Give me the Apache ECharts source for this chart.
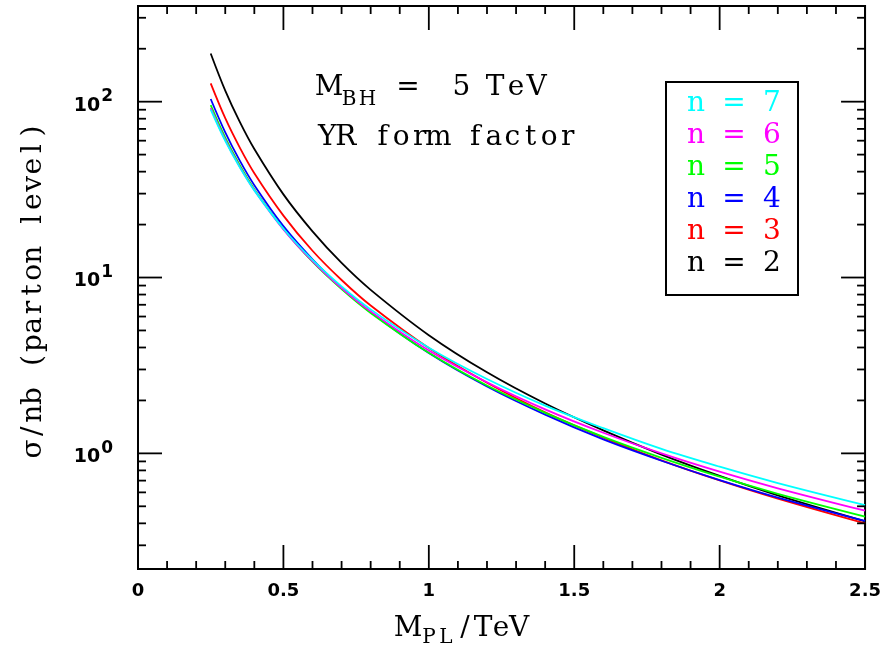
<!DOCTYPE html>
<html>
<head>
<meta charset="utf-8">
<script src="https://cdn.jsdelivr.net/npm/echarts@6/dist/echarts.min.js"></script>
<style>
html,body{margin:0;padding:0;background:#fff;}
#chart{width:884px;height:651px;}
</style>
</head>
<body>
<div id="chart"></div>
<script>
// ---- data ----
const mpl = [0.25, 0.3, 0.35, 0.4, 0.5, 0.6, 0.7, 0.8, 1.0, 1.2, 1.4, 1.6, 1.8, 2.0, 2.2, 2.5];
const sigN2 = [188, 115.6, 76.7, 53.8, 29.7, 18.3, 12.1, 8.51, 4.70, 2.89, 1.92, 1.35, 0.984, 0.744, 0.577, 0.411];
const sigN3 = [127, 80.5, 54.8, 39.2, 22.5, 14.2, 9.68, 6.93, 3.97, 2.52, 1.71, 1.23, 0.913, 0.702, 0.553, 0.400];
const sigN4 = [103.6, 66.9, 46.2, 33.5, 19.6, 12.7, 8.76, 6.35, 3.72, 2.40, 1.66, 1.20, 0.908, 0.705, 0.561, 0.413];
const sigN5 = [95.6, 62.4, 43.5, 31.8, 18.9, 12.3, 8.59, 6.29, 3.73, 2.43, 1.70, 1.24, 0.943, 0.737, 0.589, 0.437];
const sigN6 = [92, 60.6, 42.6, 31.4, 18.8, 12.4, 8.71, 6.42, 3.85, 2.54, 1.78, 1.31, 1.00, 0.787, 0.633, 0.472];
const sigN7 = [90, 59.8, 42.3, 31.3, 18.95, 12.6, 8.90, 6.59, 3.99, 2.65, 1.87, 1.39, 1.06, 0.840, 0.678, 0.508];
const nValues = [2, 3, 4, 5, 6, 7];
const seriesColors = ['#000000', '#ff0000', '#0000ff', '#00ff00', '#ff00ff', '#00ffff'];
const xMajorTicks = [0, 0.5, 1, 1.5, 2, 2.5];
const xMinorTicks = [0.1,0.2,0.3,0.4,0.6,0.7,0.8,0.9,1.1,1.2,1.3,1.4,1.6,1.7,1.8,1.9,2.1,2.2,2.3,2.4];
const yMajorTicks = [1, 10, 100];
const yMinorTicks = [0.3,0.4,0.5,0.6,0.7,0.8,0.9,2,3,4,5,6,7,8,9,20,30,40,50,60,70,80,90,200,300];
const xMin = 0, xMax = 2.5, yMin = 0.22, yMax = 350;

const sigmas = [sigN2, sigN3, sigN4, sigN5, sigN6, sigN7];

const chart = echarts.init(document.getElementById('chart'), null, {renderer: 'canvas'});

const lineSeries = nValues.map((n, k) => ({
  name: 'n = ' + n,
  type: 'line',
  data: mpl.map((x, i) => [x, sigmas[k][i]]),
  showSymbol: false,
  smooth: 0.35,
  lineStyle: {color: seriesColors[k], width: 1.8},
  itemStyle: {color: seriesColors[k]},
  z: 3
}));

// tick marks (drawn through the axes' scales)
const tickData = [];
xMajorTicks.forEach(v => tickData.push([v, yMin, 0]));
xMinorTicks.forEach(v => tickData.push([v, yMin, 1]));
yMajorTicks.forEach(v => tickData.push([xMin, v, 2]));
yMinorTicks.forEach(v => tickData.push([xMin, v, 3]));

const tickSeries = {
  type: 'custom',
  silent: true,
  z: 5,
  encode: {x: 0, y: 1},
  data: tickData,
  renderItem: function (params, api) {
    const cs = params.coordSys;
    const kind = api.value(2);
    const st = {stroke: '#000', lineWidth: 1.8};
    if (kind < 2) {
      const px = api.coord([api.value(0), yMax])[0];
      const len = kind === 0 ? 24 : 8;
      const b = cs.y + cs.height, t = cs.y;
      return {type: 'group', children: [
        {type: 'line', shape: {x1: px, y1: b, x2: px, y2: b - len}, style: st},
        {type: 'line', shape: {x1: px, y1: t, x2: px, y2: t + len}, style: st}
      ]};
    } else {
      const py = api.coord([xMin, api.value(1)])[1];
      const len = kind === 2 ? 24 : 8;
      const l = cs.x, r = cs.x + cs.width;
      return {type: 'group', children: [
        {type: 'line', shape: {x1: l, y1: py, x2: l + len, y2: py}, style: st},
        {type: 'line', shape: {x1: r, y1: py, x2: r - len, y2: py}, style: st}
      ]};
    }
  }
};

// text helpers
const SERIF = 'DejaVu Serif';
const FS = 28, FSUB = 20;
function ch(c, x, y, size, color, rot) {
  const el = {
    type: 'text', x: x, y: y, silent: true, z: 10,
    style: {
      text: c, x: 0, y: 0,
      font: size + 'px "' + SERIF + '"',
      fill: color,
      align: 'center', verticalAlign: 'middle',
      textAlign: 'center', textVerticalAlign: 'middle'
    }
  };
  if (rot) el.rotation = rot;
  return el;
}
function mono(str, x0, yc, adv, size, color) {
  const out = [];
  for (let i = 0; i < str.length; i++) {
    if (str[i] !== ' ') out.push(ch(str[i], x0 + adv * (i + 0.5), yc, size, color));
  }
  return out;
}

const graphics = [];
// legend box
graphics.push({type: 'rect', shape: {x: 666, y: 82, width: 132, height: 213},
  style: {fill: 'none', stroke: '#000', lineWidth: 2}, z: 9, silent: true});
const legendOrder = [5, 4, 3, 2, 1, 0];
legendOrder.forEach((k, row) => {
  graphics.push(...mono('n = ' + nValues[k], 686.5, 104 + 31.9 * row, 19, FS, seriesColors[k]));
});
// annotation
graphics.push(ch('M', 329, 88, FS, '#000'));
graphics.push(ch('B', 349, 99.5, FSUB, '#000'));
graphics.push(ch('H', 367.5, 99.5, FSUB, '#000'));
graphics.push(ch('=', 408, 88, FS, '#000'));
graphics.push(ch('5', 461.5, 88, FS, '#000'));
graphics.push(ch('T', 495, 88, FS, '#000'));
graphics.push(ch('e', 516, 88, FS, '#000'));
graphics.push(ch('V', 536.5, 88, FS, '#000'));
graphics.push(...mono('YR form factor', 318, 137.5, 18.5, FS, '#000'));
// x axis title
graphics.push(ch('M', 408, 629, FS, '#000'));
graphics.push(ch('P', 429, 638, FSUB, '#000'));
graphics.push(ch('L', 446, 638, FSUB, '#000'));
graphics.push(ch('/', 465, 629, FS, '#000'));
graphics.push(ch('T', 483, 629, FS, '#000'));
graphics.push(ch('e', 501, 629, FS, '#000'));
graphics.push(ch('V', 519, 629, FS, '#000'));
// y axis title (rotated)
const yTitle = 'σ/nb (parton level)';
for (let i = 0; i < yTitle.length; i++) {
  if (yTitle[i] !== ' ') graphics.push(ch(yTitle[i], 34, 449 - 17.67 * i, FS, '#000', Math.PI / 2));
}

const option = {
  animation: false,
  backgroundColor: '#ffffff',
  grid: {left: 138, right: 13, top: 6, bottom: 82, show: true,
    borderColor: '#000', borderWidth: 2, backgroundColor: 'transparent'},
  xAxis: {
    type: 'value', min: xMin, max: xMax, interval: 0.5,
    axisLine: {show: false}, axisTick: {show: false}, splitLine: {show: false},
    axisLabel: {margin: 13, fontFamily: 'DejaVu Sans', fontWeight: 'bold', fontSize: 18, color: '#000'}
  },
  yAxis: {
    type: 'log', logBase: 10, min: yMin, max: yMax,
    axisLine: {show: false}, axisTick: {show: false}, splitLine: {show: false},
    minorTick: {show: false},
    axisLabel: {
      margin: 25, color: '#000', showMinLabel: false, showMaxLabel: false,
      fontFamily: 'DejaVu Sans', fontSize: 19, fontWeight: 'bold',
      formatter: function (v) {
        const e = Math.log10(v);
        const r = Math.round(e);
        if (Math.abs(e - r) > 1e-6) return '';
        return '{b|10}{s|' + r + '}';
      },
      rich: {
        b: {fontFamily: 'DejaVu Sans', fontWeight: 'bold', fontSize: 19, lineHeight: 19, padding: [8, 0, 0, 0], color: '#000'},
        s: {fontFamily: 'DejaVu Sans', fontWeight: 'bold', fontSize: 17, lineHeight: 17, padding: [0, 0, 10, 1], color: '#000'}
      }
    }
  },
  series: lineSeries.concat([tickSeries]),
  graphic: graphics
};
chart.setOption(option);
</script>
</body>
</html>
